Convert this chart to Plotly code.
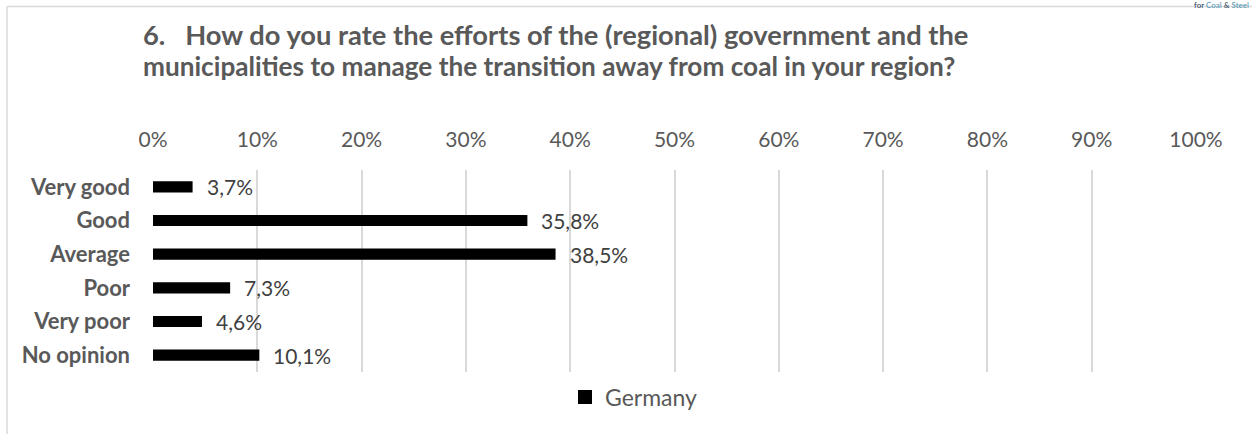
import plotly.graph_objects as go

# Survey answers (share of respondents, %)
categories = ["Very good", "Good", "Average", "Poor", "Very poor", "No opinion"]
germany = [3.7, 35.8, 38.5, 7.3, 4.6, 10.1]
tick_values = [0, 10, 20, 30, 40, 50, 60, 70, 80, 90, 100]
tick_labels = [f"{v}%" for v in tick_values]

title_line1 = "6.\u00a0\u00a0\u00a0How do you rate the efforts of the (regional) government and the"
title_line2 = "municipalities to manage the transition away from coal in your region?"

FONT = "Lato"
GREY = "#595959"
GRID = "#d9d9d9"

fig = go.Figure()
fig.add_trace(go.Bar(
    y=categories,
    x=germany,
    orientation="h",
    name="Germany",
    marker=dict(color="#000000", line=dict(width=2, color="#000000")),
    width=0.27,
))

# Value labels placed just right of each bar end
for cat, val in zip(categories, germany):
    fig.add_annotation(
        x=val, y=cat, xref="x", yref="y",
        text=f"{val:.1f}%".replace(".", ","),
        showarrow=False, xanchor="left", yanchor="middle",
        xshift=13, font=dict(family=FONT, size=21, color="#404040"),
    )

# Two-line heading
L, T, W, H = 153, 170, 1043, 202
def px(x):
    return (x - L) / W
def py(y):
    return (T + H - y) / H

fig.add_annotation(x=px(141), y=py(34), xref="paper", yref="paper",
                   text=f"<b>{title_line1}</b>", showarrow=False,
                   xanchor="left", yanchor="middle",
                   font=dict(family=FONT, size=27.3, color=GREY))
fig.add_annotation(x=px(141), y=py(66), xref="paper", yref="paper",
                   text=f"<b>{title_line2}</b>", showarrow=False,
                   xanchor="left", yanchor="middle",
                   font=dict(family=FONT, size=26.2, color=GREY))

# Small header text at the top edge
fig.add_annotation(x=px(1250), y=py(-1), xref="paper", yref="paper",
                   text="<span style='color:#1f3b57'>for</span> "
                        "<span style='color:#4a8fb0'>Coal</span> "
                        "<span style='color:#1f3b57'>&amp;</span> "
                        "<span style='color:#4a8fb0'>Steel</span>",
                   showarrow=False, xanchor="right", yanchor="top",
                   borderpad=0, font=dict(family=FONT, size=8))

# Chart-area border (top and left edges)
fig.add_shape(type="line", xref="paper", yref="paper",
              x0=px(7), x1=px(1260), y0=py(6.5), y1=py(6.5),
              line=dict(color=GRID, width=1.5))
fig.add_shape(type="line", xref="paper", yref="paper",
              x0=px(7), x1=px(7), y0=py(6.5), y1=py(440),
              line=dict(color=GRID, width=1.5))

fig.update_layout(
    width=1252, height=434,
    margin=dict(l=L, r=1252 - L - W, t=T, b=434 - T - H),
    paper_bgcolor="white", plot_bgcolor="white",
    font=dict(family=FONT, color=GREY),
    showlegend=True,
    legend=dict(orientation="h", x=px(565), y=py(397), xanchor="left",
                yanchor="middle", font=dict(family=FONT, size=23, color=GREY),
                itemwidth=30),
    xaxis=dict(
        range=[0, 100], side="top", tickvals=tick_values, ticktext=tick_labels,
        showgrid=True, gridcolor=GRID, gridwidth=1.5, zeroline=False,
        showline=False, ticks="", ticklabelstandoff=18,
        tickfont=dict(family=FONT, size=21, color=GREY),
    ),
    yaxis=dict(
        categoryorder="array", categoryarray=categories[::-1],
        showgrid=False, zeroline=False, showline=False, ticks="",
        ticklabelstandoff=22,
        tickfont=dict(family=FONT, size=22, color=GREY, weight="bold"),
    ),
)

fig.write_html("out.html")
